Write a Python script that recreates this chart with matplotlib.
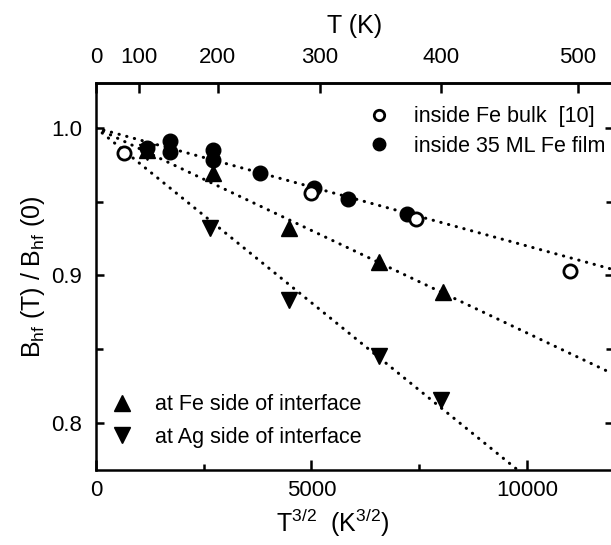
#!/usr/bin/env python3
"""Hyperfine field B_hf(T)/B_hf(0) vs T^(3/2) for Fe bulk, Fe film and the Fe/Ag interface."""
import numpy as np
import matplotlib
matplotlib.use("Agg")
import matplotlib.pyplot as plt
from matplotlib.lines import Line2D

plt.rcParams["font.family"] = ["Liberation Sans", "DejaVu Sans"]
plt.rcParams["mathtext.default"] = "regular"

# ── Data (x = T^(3/2) in K^(3/2)) ─────────────────────────────────────────────
bulk_x = [650, 4980, 7420, 11000]
bulk_y = [0.983, 0.956, 0.938, 0.903]

film_x = [1190, 1720, 1720, 2720, 2720, 3810, 5050, 5840, 7230]
film_y = [0.9865, 0.991, 0.984, 0.985, 0.978, 0.9695, 0.959, 0.952, 0.9417]

fe_side_x = [1190, 2720, 4470, 6580, 8050]
fe_side_y = [0.985, 0.9695, 0.932, 0.909, 0.889]

ag_side_x = [1190, 2650, 4470, 6580, 8000]
ag_side_y = [0.984, 0.932, 0.883, 0.845, 0.8156]

# linear fits B(T)/B(0) = a + b * T^(3/2)
FIT_A = [1.0, 1.0, 1.0]
FIT_B = [-8.0e-6, -1.39e-5, -2.37e-5]

T_TICKS = [0, 100, 200, 300, 400, 500]

# ── Figure ─────────────────────────────────────────────────────────────────────
fig = plt.figure(figsize=(6.11, 5.45), dpi=100)
ax = fig.add_axes([96 / 611, 1 - 470 / 545, 517 / 611, 387 / 545])

XMAX = 12000
xfit = np.array([0, XMAX])
for a, b in zip(FIT_A, FIT_B):
    ax.plot(xfit, a + b * xfit, color="black", lw=2.2,
            linestyle=(0, (0.1, 2.5)), dash_capstyle="round", zorder=2)

ax.plot(film_x, film_y, "o", ms=10.5, color="black", zorder=3)
ax.plot(fe_side_x, fe_side_y, "^", ms=12, color="black", zorder=3)
ax.plot(ag_side_x, ag_side_y, "v", ms=12, color="black", zorder=3)
ax.plot(bulk_x, bulk_y, "o", ms=9.5, mfc="white", mec="black", mew=2.0, zorder=4)

ax.set_xlim(0, XMAX)
ax.set_ylim(0.768, 1.0305)
ax.set_xticks([0, 5000, 10000])
ax.set_xticks([2500, 7500], minor=True)
ax.set_yticks([0.8, 0.9, 1.0])
ax.set_yticklabels(["0.8", "0.9", "1.0"])
ax.set_yticks([0.85, 0.95], minor=True)

for sp in ax.spines.values():
    sp.set_linewidth(1.8)
ax.tick_params(which="both", direction="in", width=1.8, labelsize=16,
               top=False, right=True)
ax.tick_params(axis="x", which="major", length=7, pad=7)
ax.tick_params(axis="x", which="minor", length=4)
ax.tick_params(axis="y", which="major", length=6, pad=10)
ax.tick_params(axis="y", which="minor", length=5)

ax.set_xlabel(r"T$^{3/2}$  (K$^{3/2}$)", fontsize=18)
ax.xaxis.set_label_coords(0.458, -0.095)
ax.set_ylabel(r"B$_{hf}$ (T) / B$_{hf}$ (0)", fontsize=18, labelpad=3)

# top axis: temperature in K
top = ax.secondary_xaxis("top", functions=(lambda x: np.sign(x) * np.abs(x) ** (2 / 3),
                                           lambda t: np.sign(t) * np.abs(t) ** 1.5))
top.set_xticks(T_TICKS)
top.tick_params(direction="in", length=7, width=1.8, labelsize=16, pad=11)
top.spines["top"].set_linewidth(1.8)
top.set_xlabel("T (K)", fontsize=18, labelpad=10)

# legends
h_bulk = Line2D([], [], ls="none", marker="o", ms=7.5, mfc="white", mec="black", mew=2.0)
h_film = Line2D([], [], ls="none", marker="o", ms=9, color="black")
leg1 = ax.legend([h_bulk, h_film], ["inside Fe bulk  [10]", "inside 35 ML Fe film"],
                 loc="upper right", bbox_to_anchor=(0.985, 0.94), frameon=False,
                 fontsize=15.5, handlelength=1.0, handletextpad=1.1,
                 labelspacing=0.4, borderpad=0, borderaxespad=0)
ax.add_artist(leg1)

h_fe = Line2D([], [], ls="none", marker="^", ms=12, color="black")
h_ag = Line2D([], [], ls="none", marker="v", ms=12, color="black")
ax.legend([h_fe, h_ag], ["at Fe side of interface", "at Ag side of interface"],
          loc="lower left", bbox_to_anchor=(0.03, 0.057), frameon=False,
          fontsize=15.5, handlelength=1.0, handletextpad=1.0,
          labelspacing=0.55, borderpad=0, borderaxespad=0)

fig.savefig("out.png", dpi=100)
